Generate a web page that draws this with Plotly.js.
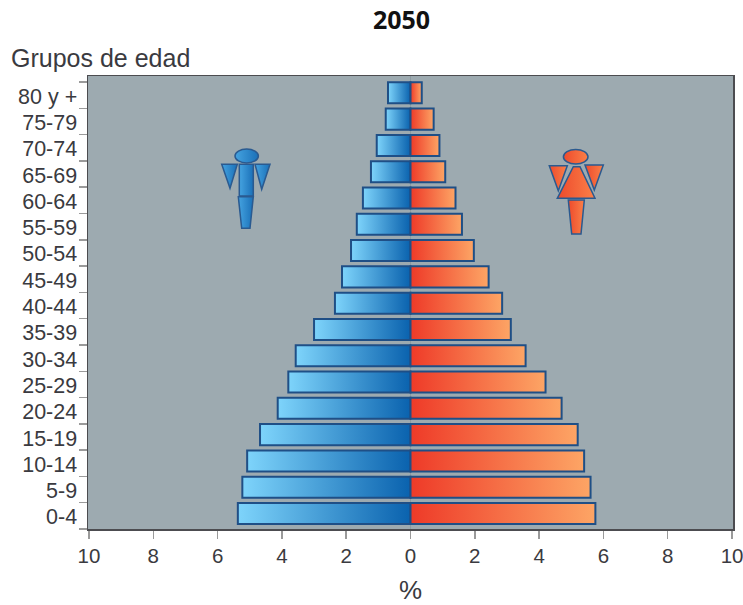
<!DOCTYPE html>
<html><head><meta charset="utf-8">
<script src="https://cdn.plot.ly/plotly-3.0.1.min.js"></script>
<style>html,body{margin:0;padding:0;background:#fff}#c{width:743px;height:605px}</style></head>
<body><div id="c"></div>
<script>
const ageGroups=['0-4','5-9','10-14','15-19','20-24','25-29','30-34','35-39','40-44','45-49','50-54','55-59','60-64','65-69','70-74','75-79','80 y +'];
const male=[5.37,5.23,5.08,4.68,4.13,3.8,3.57,3.0,2.35,2.13,1.85,1.67,1.48,1.23,1.05,0.77,0.7];
const female=[5.75,5.6,5.4,5.2,4.7,4.2,3.58,3.12,2.85,2.43,1.97,1.6,1.4,1.08,0.9,0.72,0.35];
const xTickVals=[-10,-8,-6,-4,-2,0,2,4,6,8,10];
const xTickText=['10','8','6','4','2','0','2','4','6','8','10'];
const W=743,H=605,L=88,R=733,T=76,B=529;
const px=x=>(x-L)/(R-L), py=y=>(B-y)/(B-T);
const poly=pts=>'M'+pts.map(p=>px(p[0])+','+py(p[1])).join('L')+'Z';
const maleIcon=[
 [[221.7,164.3],[237.3,164.3],[230,188.3]],
 [[255,164.3],[270,164.3],[261.7,189.3]],
 [[239.3,164.3],[253.3,164.3],[253.3,196],[239.3,196]],
 [[238.3,196.7],[253.3,196.7],[250,228.3],[241.7,228.3]]];
const femaleIcon=[
 [[549.3,165.7],[567.3,165.7],[558.3,190.7]],
 [[585,165],[603.3,165],[594.3,190]],
 [[573.3,166.7],[580,166.7],[595,198.3],[557.3,198.3]],
 [[568.3,200],[584.3,200],[581,234],[571.7,234]]];
const iconShape=(pts,fill)=>({type:'path',xref:'paper',yref:'paper',path:poly(pts),fillcolor:fill,line:{color:'#2a5a90',width:1.5},layer:'above'});
const head=(cx,cy,rx,ry,fill)=>({type:'circle',xref:'paper',yref:'paper',x0:px(cx-rx),x1:px(cx+rx),y0:py(cy+ry),y1:py(cy-ry),fillcolor:fill,line:{color:'#2a5a90',width:1.5},layer:'above'});
const shapes=[head(246.7,156,11.7,7,'#2f8ad0')].concat(maleIcon.map(p=>iconShape(p,'#2a84cc')),[head(575.7,156.7,12.3,7.3,'#f2603a')],femaleIcon.map(p=>iconShape(p,'#f4643a')));
const bar=(vals,col)=>({type:'bar',orientation:'h',y:ageGroups,x:vals,width:0.8,offset:-0.31,marker:{color:col,line:{color:'#1f4f86',width:2}},hoverinfo:'skip'});
const data=[bar(male.map(v=>-v),'#3a90d0'),bar(female,'#f57040')];
const font={family:'"Liberation Sans",Arial,sans-serif',color:'#3a3a40'};
const layout={width:W,height:H,showlegend:false,barmode:'overlay',
 margin:{l:L,r:W-R,t:T,b:H-B,pad:0},paper_bgcolor:'#fff',plot_bgcolor:'#9daab0',
 title:{text:'<b>2050</b>',x:401.5/W,xanchor:'center',y:1-20/H,yanchor:'middle',font:{family:'"Open Sans",sans-serif',size:25,color:'#111'}},
 xaxis:{range:[-10.03,10.03],tickmode:'array',tickvals:xTickVals,ticktext:xTickText,ticks:'outside',ticklen:8,tickwidth:1.5,tickcolor:'#9a9a9a',
  tickfont:{...font,size:20.5},ticklabeloverflow:'allow',showgrid:false,zeroline:true,zerolinecolor:'#8c9aa0',zerolinewidth:1,showline:true,linecolor:'#4c4c50',linewidth:1.5,mirror:true,
  title:{text:'%',standoff:16,font:{...font,size:26}}},
 yaxis:{type:'category',categoryorder:'array',categoryarray:ageGroups,range:[-0.5,16.73],tickson:'boundaries',ticks:'outside',ticklen:8,tickwidth:1.5,tickcolor:'#9a9a9a',
  tickfont:{...font,size:21.5},ticklabelstandoff:5,ticklabelshift:1,showgrid:false,showline:true,linecolor:'#4c4c50',linewidth:1.5,mirror:true},
 annotations:[{text:'Grupos de edad',xref:'paper',yref:'paper',x:px(9),y:py(58),xanchor:'left',yanchor:'middle',showarrow:false,font:{...font,size:25}}],
 shapes:shapes};
function grad(defs,id,c0,c1){
 const ns='http://www.w3.org/2000/svg';
 const g=document.createElementNS(ns,'linearGradient');g.setAttribute('id',id);
 g.setAttribute('x1','0');g.setAttribute('x2','1');g.setAttribute('y1','0');g.setAttribute('y2','0');
 [[0,c0],[1,c1]].forEach(s=>{const t=document.createElementNS(ns,'stop');t.setAttribute('offset',s[0]);t.setAttribute('stop-color',s[1]);g.appendChild(t);});
 defs.appendChild(g);
}
Plotly.newPlot('c',data,layout,{displayModeBar:false,staticPlot:true}).then(gd=>{
 const defs=gd.querySelector('.main-svg defs');
 grad(defs,'gM','#7ed4fb','#0a62ae');
 grad(defs,'gF','#ee3a28','#fda565');
 grad(defs,'iM','#45a3e0','#1a70b8');
 grad(defs,'iF','#ee4a2c','#fa8048');
 const traces=gd.querySelectorAll('.barlayer .trace');
 traces[0].querySelectorAll('.point path').forEach(p=>{p.style.fill='url(#gM)';});
 traces[1].querySelectorAll('.point path').forEach(p=>{p.style.fill='url(#gF)';});
 gd.querySelectorAll('.layer-above .shapelayer path').forEach((p,i)=>{p.style.fill=i<5?'url(#iM)':'url(#iF)';});
});
</script></body></html>
